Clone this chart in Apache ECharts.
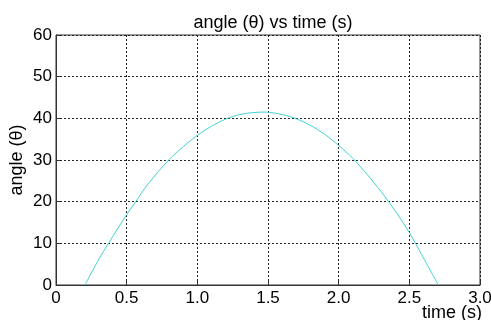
<!DOCTYPE html>
<html>
<head>
<meta charset="utf-8">
<script src="https://cdn.jsdelivr.net/npm/echarts@6/dist/echarts.min.js"></script>
<style>
html,body{margin:0;padding:0;background:#fff;}
#c{width:491px;height:320px;}
</style>
</head>
<body>
<div id="c"></div>
<script>
var timeValues = [0.205, 0.3, 0.375, 0.5, 0.564, 0.65, 0.8, 0.9, 1.0, 1.1, 1.2, 1.3, 1.4, 1.48, 1.6, 1.7, 1.8, 1.9, 2.0, 2.1, 2.2, 2.3, 2.4, 2.5, 2.54, 2.6, 2.705];
var angleValues = [0, 6, 10.2, 16.9, 20, 24.2, 30.1, 33.2, 35.9, 38.1, 39.8, 40.9, 41.4, 41.5, 40.9, 39.9, 38.3, 36.2, 33.5, 30.4, 26.6, 22.4, 17.8, 12.6, 10.2, 6.5, 0];
var xTickValues = [0, 0.5, 1.0, 1.5, 2.0, 2.5, 3.0];
var xTickLabels = ['0', '0.5', '1.0', '1.5', '2.0', '2.5', '3.0'];
var yTickValues = [0, 10, 20, 30, 40, 50, 60];
var yTickLabels = ['0', '10', '20', '30', '40', '50', '60'];
var titleText = 'angle (\u03b8) vs time (s)';
var xName = 'time (s)';
var yName = 'angle (\u03b8)';

var pts = timeValues.map(function (t, i) { return [t, angleValues[i]]; });
var font = 'Liberation Sans, Arial, sans-serif';
function lab(vals, labels) {
  return function (v) {
    for (var i = 0; i < vals.length; i++) if (Math.abs(vals[i] - v) < 1e-9) return labels[i];
    return '';
  };
}
var chart = echarts.init(document.getElementById('c'), null, {renderer: 'canvas'});
chart.setOption({
  animation: false,
  backgroundColor: '#ffffff',
  title: {
    text: titleText, left: 268, textAlign: 'center', top: 9,
    textStyle: {fontFamily: font, fontSize: 18, fontWeight: 'normal', color: '#000'}
  },
  grid: {left: 56, right: 11, top: 35, bottom: 35, show: true, borderColor: '#333', borderWidth: 1, backgroundColor: 'transparent', containLabel: false, outerBoundsMode: 'none'},
  xAxis: {
    type: 'value', min: 0, max: 3, interval: 0.5,
    name: xName, nameLocation: 'end', nameGap: 2, nameMoveOverlap: false,
    nameTextStyle: {fontFamily: font, fontSize: 18, color: '#000', align: 'right', verticalAlign: 'top', padding: [19, 0, 0, 0]},
    axisLine: {show: true, lineStyle: {color: '#333', width: 1}},
    axisTick: {show: true, inside: true, length: 4, lineStyle: {color: '#333'}},
    axisLabel: {formatter: lab(xTickValues, xTickLabels), fontFamily: font, fontSize: 17, color: '#000', margin: 5, showMaxLabel: true, showMinLabel: true},
    splitLine: {show: true, lineStyle: {color: '#222', type: [2, 2], width: 1}}
  },
  yAxis: {
    type: 'value', min: 0, max: 60, interval: 10,
    name: yName, nameLocation: 'middle', nameGap: 30, nameRotate: 90, nameMoveOverlap: false,
    nameTextStyle: {fontFamily: font, fontSize: 18, color: '#000'},
    axisLine: {show: true, lineStyle: {color: '#333', width: 1}},
    axisTick: {show: true, inside: true, length: 4, lineStyle: {color: '#333'}},
    axisLabel: {formatter: lab(yTickValues, yTickLabels), fontFamily: font, fontSize: 17, color: '#000', margin: 4},
    splitLine: {show: true, lineStyle: {color: '#222', type: [2, 2], width: 1}}
  },
  series: [{
    type: 'line', data: pts, smooth: 0.3, showSymbol: false, symbol: 'none',
    lineStyle: {color: '#3fd2d2', width: 1}
  }]
});
</script>
</body>
</html>
